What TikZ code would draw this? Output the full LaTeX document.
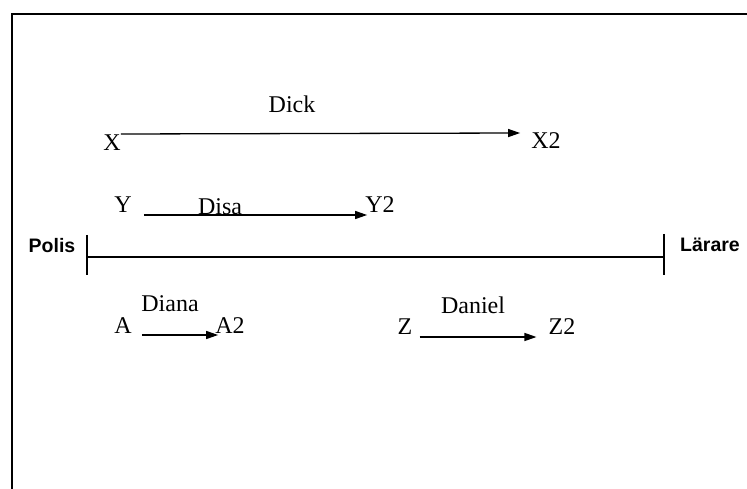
\documentclass[tikz,border=0pt]{standalone}
\usepackage{fontspec}
\setmainfont{Liberation Serif}
\newfontfamily\labelsans{Liberation Sans}
\usetikzlibrary{arrows.meta}
\begin{document}
\begin{tikzpicture}[x=1pt,y=-1pt,
  lbl/.style={font=\fontsize{24}{26}\selectfont, inner sep=0pt},
  side/.style={font=\labelsans\bfseries\fontsize{19.5}{22}\selectfont, inner sep=0pt},
  arr/.style={line width=1.3pt, -{Triangle[length=12pt,width=8pt]}},
  frame/.style={line width=2.5pt},
  axis/.style={line width=2pt},
  tick/.style={line width=1.6pt}]
  \useasboundingbox (0,0) rectangle (747,489);
  % open frame: only top and left edges lie inside the page
  \draw[frame] (12,520) -- (12,14) -- (780,14);

  % the scale between the two poles
  \coordinate (pL) at (87,257);
  \coordinate (pR) at (664,257);
  \draw[axis] (pL) -- (pR);
  \draw[tick] (87,235) -- (87,275);
  \draw[tick] (664,234) -- (664,275);
  \node[side] (polis) at (52,246) {Polis};
  \node[side] (larare) at (710,245) {Lärare};

  % Dick
  \node[lbl] (X) at (112,143) {X};
  \node[lbl] (X2) at (546,141) {X2};
  \node[lbl] (dick) at (292,104) {Dick};
  \draw[arr] ([yshift=9pt]X.east) -- ([xshift=-11pt,yshift=8pt]X2.west);

  % Disa
  \node[lbl] (Y) at (123,205) {Y};
  \node[lbl] (Y2) at (380,205) {Y2};
  \node[lbl] (disa) at (220,207) {Disa};
  \draw[arr] ([xshift=12pt,yshift=-10pt]Y.east) -- ([xshift=2pt,yshift=-10pt]Y2.west);

  % Diana
  \node[lbl] (A) at (123,326) {A};
  \node[lbl] (A2) at (230,326) {A2};
  \node[lbl] (diana) at (170,304) {Diana};
  \draw[arr] ([xshift=10pt,yshift=-9pt]A.east) -- ([xshift=3pt,yshift=-9pt]A2.west);

  % Daniel
  \node[lbl] (Z) at (405,327) {Z};
  \node[lbl] (Z2) at (562,327) {Z2};
  \node[lbl] (daniel) at (473,305) {Daniel};
  \draw[arr] ([xshift=7pt,yshift=-10pt]Z.east) -- ([xshift=-12pt,yshift=-10pt]Z2.west);
\end{tikzpicture}
\end{document}
